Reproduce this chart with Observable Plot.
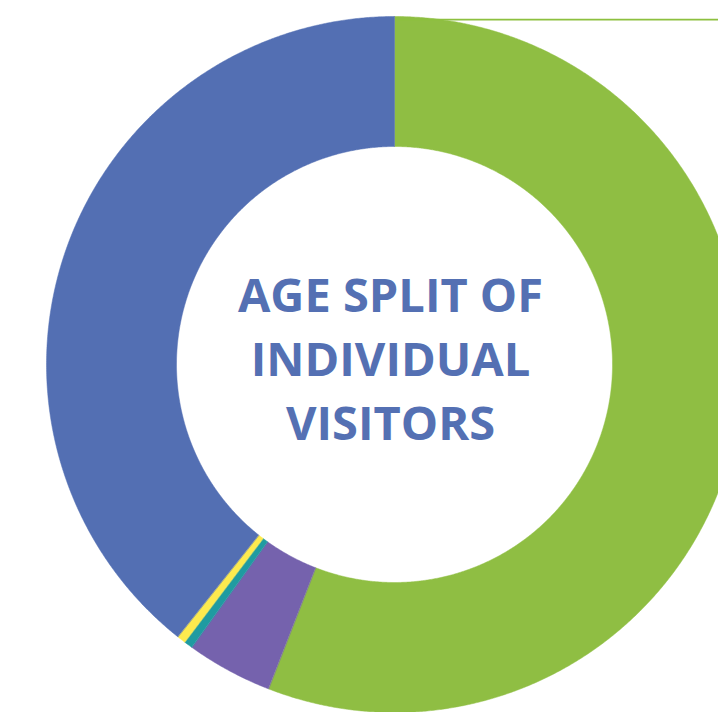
<!DOCTYPE html>
<html>
<head>
<meta charset="utf-8">
<script src="https://cdn.jsdelivr.net/npm/d3@7"></script>
<script src="https://cdn.jsdelivr.net/npm/@observablehq/plot@0.6"></script>
<style>
  html, body { margin: 0; padding: 0; background: #fff; }
  #chart svg { display: block; }
</style>
</head>
<body>
<div id="chart"></div>
<script>
// ---- data (clockwise from 12 o'clock) ----
const categories = ["Adults (18–64)", "Seniors (65+)", "Infants (0–4)", "Children (5–12)", "Young people (13–17)"];
const shares = [55.9, 4.0, 0.4, 0.4, 39.3];
const colors = ["#8FBE43", "#7562AD", "#1F9BA1", "#FDEA4E", "#536FB3"];
const titleLines = ["AGE SPLIT OF", "INDIVIDUAL", "VISITORS"];

// ---- geometry ----
const W = 718, H = 712;
const cx = 394, cy = 364, rOuter = 348, rInner = 218;

const pie = d3.pie().sort(null).value(d => d.value);
const arcs = pie(categories.map((c, i) => ({category: c, value: shares[i], color: colors[i]})));

const pts = [];
arcs.forEach(a => {
  const n = Math.max(4, Math.ceil((a.endAngle - a.startAngle) / 0.005));
  const ring = [];
  for (let k = 0; k <= n; k++) {
    const t = a.startAngle + (a.endAngle - a.startAngle) * k / n;
    ring.push([t, rOuter]);
  }
  for (let k = n; k >= 0; k--) {
    const t = a.startAngle + (a.endAngle - a.startAngle) * k / n;
    ring.push([t, rInner]);
  }
  ring.forEach(([t, r]) => pts.push({
    category: a.data.category, color: a.data.color,
    x: cx + r * Math.sin(t), y: cy - r * Math.cos(t)
  }));
});

// leader line from top of the green slice toward its (off-frame) label
const leaderStart = arcs[0].startAngle + 0.012;
const leader = [
  {x: cx + rOuter * Math.sin(leaderStart), y: cy - rOuter * Math.cos(leaderStart) + 3},
  {x: W + 20, y: cy - rOuter * Math.cos(leaderStart) + 3}
];

const chart = Plot.plot({
  width: W, height: H,
  margin: 0,
  x: {domain: [0, W], range: [0, W], axis: null},
  y: {domain: [0, H], range: [0, H], axis: null},
  style: {background: "#fff", overflow: "hidden"},
  marks: [
    Plot.line(pts, {x: "x", y: "y", z: "category", fill: "color", stroke: "color", strokeWidth: 0.5, curve: "linear-closed"}),
    Plot.line(leader, {x: "x", y: "y", stroke: "#8DC03F", strokeWidth: 1.8}),
    Plot.text([titleLines.join("\n")], {
      x: () => cx - 4, y: () => cy - 9,
      fontSize: 47, fontWeight: "bold", fill: "#5470B3",
      fontFamily: "Open Sans, Noto Sans, sans-serif",
      lineHeight: 1.36, textAnchor: "middle"
    })
  ]
});
document.getElementById("chart").append(chart);
</script>
</body>
</html>
